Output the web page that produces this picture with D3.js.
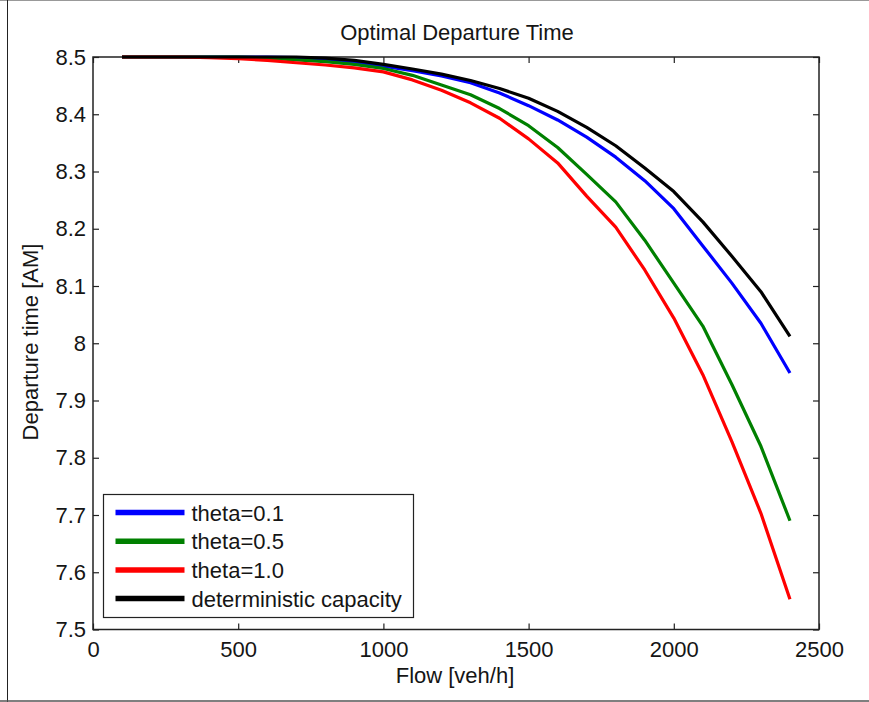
<!DOCTYPE html>
<html>
<head>
<meta charset="utf-8">
<script src="https://cdn.jsdelivr.net/npm/d3@7"></script>
<style>
  body { margin: 0; background: #fff; }
  text { font-family: "Liberation Sans", Arial, sans-serif; fill: #151515; }
</style>
</head>
<body>
<div id="main"></div>
<script>
const ctx = {
    w: 869,
    h: 702,
    left: 93,
    right: 819,
    top: 57,
    bottom: 629.5,
    font: "22px",
};

// flow values (veh/h)
const flow = [100, 200, 300, 400, 500, 600, 700, 800, 900, 1000, 1100, 1200,
              1300, 1400, 1500, 1600, 1700, 1800, 1900, 2000, 2100, 2200, 2300, 2400];

const theta01 = [8.5, 8.5, 8.5, 8.5, 8.5, 8.5, 8.499, 8.496, 8.491, 8.484, 8.476, 8.467,
                 8.455, 8.437, 8.415, 8.39, 8.36, 8.325, 8.284, 8.235, 8.17, 8.105, 8.035, 7.948];
const theta05 = [8.5, 8.5, 8.5, 8.5, 8.5, 8.498, 8.495, 8.492, 8.487, 8.48, 8.468, 8.451,
                 8.434, 8.41, 8.38, 8.342, 8.295, 8.247, 8.18, 8.105, 8.03, 7.928, 7.82, 7.69];
const theta10 = [8.5, 8.5, 8.5, 8.499, 8.497, 8.494, 8.49, 8.486, 8.481, 8.474, 8.46, 8.442,
                 8.42, 8.393, 8.357, 8.315, 8.257, 8.203, 8.128, 8.044, 7.945, 7.828, 7.703, 7.553];
const deterministic = [8.5, 8.5, 8.5, 8.5, 8.5, 8.5, 8.5, 8.498, 8.494, 8.487, 8.479, 8.47,
                 8.459, 8.445, 8.428, 8.405, 8.377, 8.345, 8.306, 8.265, 8.212, 8.152, 8.09, 8.012];

const seriesNames = ["theta=0.1", "theta=0.5", "theta=1.0", "deterministic capacity"];
const seriesColors = ["#0000ff", "#008000", "#ff0000", "#000000"];
const seriesValues = [theta01, theta05, theta10, deterministic];

const xTicks = [0, 500, 1000, 1500, 2000, 2500];
const yTicks = [7.5, 7.6, 7.7, 7.8, 7.9, 8, 8.1, 8.2, 8.3, 8.4, 8.5];

function createChart(svg) {
    const x = d3.scaleLinear().domain([0, 2500]).range([ctx.left, ctx.right]);
    const y = d3.scaleLinear().domain([7.5, 8.5]).range([ctx.bottom, ctx.top]);

    // figure frame
    svg.append("line").attr("x1", 0).attr("x2", ctx.w).attr("y1", 0.5).attr("y2", 0.5)
       .style("stroke", "#999");
    svg.append("line").attr("x1", 7.5).attr("x2", 7.5).attr("y1", 0).attr("y2", ctx.h)
       .style("stroke", "#222");
    svg.append("line").attr("x1", 0).attr("x2", ctx.w).attr("y1", 701).attr("y2", 701)
       .style("stroke", "#555").style("stroke-width", 1.5);

    const fmt = d => d3.format("")(d);

    // axes: ticks inward on all four sides
    const axB = svg.append("g").attr("transform", `translate(0,${ctx.bottom})`)
        .call(d3.axisBottom(x).tickValues(xTicks).tickSizeInner(-6).tickSizeOuter(0).tickPadding(12).tickFormat(fmt));
    const axT = svg.append("g").attr("transform", `translate(0,${ctx.top})`)
        .call(d3.axisTop(x).tickValues(xTicks).tickSizeInner(-6).tickSizeOuter(0).tickFormat(""));
    const axL = svg.append("g").attr("transform", `translate(${ctx.left},0)`)
        .call(d3.axisLeft(y).tickValues(yTicks).tickSizeInner(-6).tickSizeOuter(0).tickPadding(7).tickFormat(fmt));
    const axR = svg.append("g").attr("transform", `translate(${ctx.right},0)`)
        .call(d3.axisRight(y).tickValues(yTicks).tickSizeInner(-6).tickSizeOuter(0).tickFormat(""));

    [axB, axT, axL, axR].forEach(a => {
        a.select(".domain").remove();
        a.selectAll(".tick line").style("stroke", "#222").style("stroke-width", 1.2);
        a.selectAll("text").style("font-size", ctx.font).style("fill", "#151515")
         .style("font-family", '"Liberation Sans", Arial, sans-serif');
    });
    axB.selectAll("text").attr("dy", "0.71em");

    svg.append("rect")
       .attr("x", ctx.left).attr("y", ctx.top)
       .attr("width", ctx.right - ctx.left).attr("height", ctx.bottom - ctx.top)
       .style("fill", "none").style("stroke", "#222").style("stroke-width", 1.5);

    // curves
    const line = d3.line()
        .x((d, i) => x(flow[i]))
        .y(d => y(d));

    svg.selectAll(".curve")
        .data(seriesValues)
        .enter()
        .append("path")
        .attr("class", "curve")
        .attr("d", d => line(d))
        .style("fill", "none")
        .style("stroke", (d, i) => seriesColors[i])
        .style("stroke-width", 3.2)
        .style("stroke-linejoin", "round");

    // title and labels
    svg.append("text").attr("x", 457).attr("y", 40).attr("text-anchor", "middle")
       .style("font-size", ctx.font).text("Optimal Departure Time");
    svg.append("text").attr("x", 455).attr("y", 683).attr("text-anchor", "middle")
       .style("font-size", ctx.font).text("Flow [veh/h]");
    svg.append("text").attr("transform", "translate(38,342) rotate(-90)").attr("text-anchor", "middle")
       .style("font-size", ctx.font).text("Departure time [AM]");

    // legend
    const lg = svg.append("g").attr("transform", "translate(103.5,494.5)");
    lg.append("rect").attr("width", 310).attr("height", 123)
      .style("fill", "#fff").style("stroke", "#222").style("stroke-width", 1.2);
    const rows = lg.selectAll(".row")
        .data(seriesNames)
        .enter()
        .append("g")
        .attr("transform", (d, i) => `translate(0,${18 + i * 28.7})`);
    rows.append("line").attr("x1", 12).attr("x2", 81).attr("y1", 0).attr("y2", 0)
        .style("stroke", (d, i) => seriesColors[i]).style("stroke-width", 5.5);
    rows.append("text").attr("x", 88).attr("y", 8).style("font-size", ctx.font).text(d => d);
}

function createViz() {
    let svgEl = d3.select("#main").append("svg");
    svgEl.attr("width", ctx.w);
    svgEl.attr("height", ctx.h);
    createChart(svgEl);
}

createViz();
</script>
</body>
</html>
